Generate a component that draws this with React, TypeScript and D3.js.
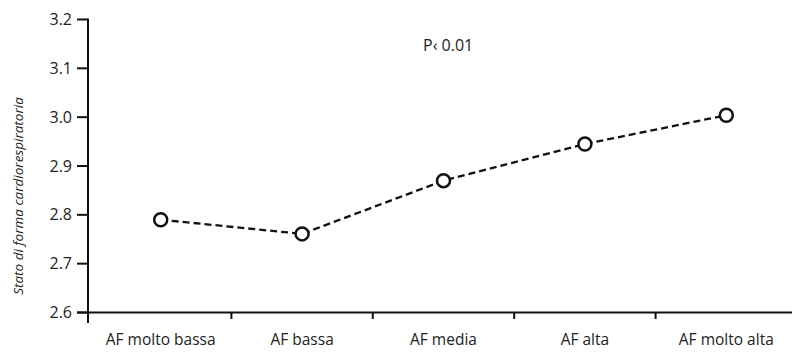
import React from "react";
import * as d3 from "d3";

const categories = ["AF molto bassa", "AF bassa", "AF media", "AF alta", "AF molto alta"];
const fitness = [2.79, 2.761, 2.87, 2.945, 3.004];
const yTicks = [2.6, 2.7, 2.8, 2.9, 3.0, 3.1, 3.2];
const yLabel = "Stato di forma cardiorespiratoria";
const pLabel = "P\u2039 0.01";

const W = 792;
const H = 352;
const FONT = "'Open Sans', sans-serif";

export default function App() {
  const axisX = 88;
  const axisY = 312.5;
  const x = d3.scaleBand<string>().domain(categories).range([90, 797]).padding(0);
  const y = d3.scaleLinear().domain([2.6, 3.2]).range([axisY, 19.5]);
  const cx = (c: string) => (x(c) ?? 0) + x.bandwidth() / 2;

  const line = d3
    .line<number>()
    .x((_, i) => cx(categories[i]))
    .y((d) => y(d));

  const boundaries = categories.slice(1).map((c) => x(c) ?? 0);

  return (
    <svg
      width={W}
      height={H}
      style={{ position: "absolute", left: 0, top: 0, background: "#fff" }}
    >
      {/* y axis */}
      <line x1={axisX} x2={axisX} y1={y(3.2) - 1} y2={323} stroke="#111" strokeWidth={2} />
      {yTicks.map((t) => (
        <g key={t}>
          <line x1={77} x2={axisX} y1={y(t)} y2={y(t)} stroke="#111" strokeWidth={2} />
          <text
            x={72}
            y={y(t)}
            dy="0.35em"
            textAnchor="end"
            fontFamily={FONT}
            fontSize={16}
            fill="#222"
          >
            {t.toFixed(1)}
          </text>
        </g>
      ))}
      {/* x axis */}
      <line x1={77} x2={W} y1={axisY} y2={axisY} stroke="#111" strokeWidth={2} />
      {boundaries.map((b, i) => (
        <line key={i} x1={b} x2={b} y1={axisY} y2={319} stroke="#111" strokeWidth={2} />
      ))}
      {categories.map((c) => (
        <text
          key={c}
          x={cx(c)}
          y={345}
          textAnchor="middle"
          fontFamily={FONT}
          fontSize={15.5}
          fill="#222"
        >
          {c}
        </text>
      ))}
      {/* y axis title */}
      <text
        transform={`translate(23, ${(y(3.2) + axisY) / 2 + 30}) rotate(-90)`}
        textAnchor="middle"
        fontFamily={FONT}
        fontStyle="italic"
        fontSize={13.5}
        fill="#222"
      >
        {yLabel}
      </text>
      {/* significance */}
      <text x={423} y={51} fontFamily={FONT} fontSize={16} fill="#222">
        {pLabel}
      </text>
      {/* series */}
      <path
        d={line(fitness) ?? ""}
        fill="none"
        stroke="#111"
        strokeWidth={2.3}
        strokeDasharray="7,4"
      />
      {fitness.map((v, i) => (
        <circle
          key={i}
          cx={cx(categories[i])}
          cy={y(v)}
          r={6.5}
          fill="#fff"
          stroke="#111"
          strokeWidth={2.5}
        />
      ))}
    </svg>
  );
}
